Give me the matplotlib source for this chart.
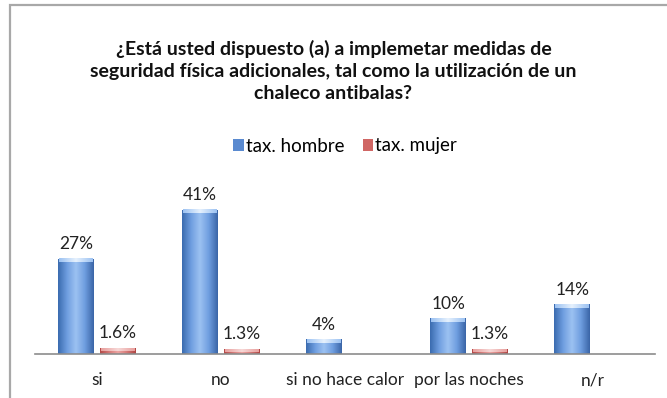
import numpy as np
import matplotlib
matplotlib.use("Agg")
import matplotlib.pyplot as plt
from matplotlib.patches import Rectangle
from matplotlib.colors import LinearSegmentedColormap

# respuestas por categoria (%)
categorias = ["si", "no", "si no hace calor", "por las noches", "n/r"]
hombre = [27, 41, 4, 10, 14]
mujer = [1.6, 1.3, None, 1.3, None]
etiq_hombre = ["27%", "41%", "4%", "10%", "14%"]
etiq_mujer = ["1.6%", "1.3%", "", "1.3%", ""]

titulo = ("¿Está usted dispuesto (a) a implemetar medidas de\n"
          "seguridad física adicionales, tal como la utilización de un\n"
          "chaleco antibalas?")

plt.rcParams['font.family'] = ['Lato', 'DejaVu Sans']

fig = plt.figure(figsize=(6.67, 3.98), dpi=100)
fig.patch.set_facecolor("white")

# marco gris del grafico
marco = Rectangle((10 / 667, -0.1), 1.2, 1 - 5 / 398 + 0.1, transform=fig.transFigure,
                  fill=False, edgecolor="#a8a8a8", linewidth=1.6)
fig.patches.append(marco)

ax = fig.add_axes([35 / 667, 1 - 354 / 398, 620 / 667, 164 / 398])
ymax = 164 / 3.51

x = np.arange(len(categorias))
ancho = 0.29
desp = 0.168

azul = LinearSegmentedColormap.from_list("azul", ["#3b6cb0", "#6f9ee0", "#9cc2f2", "#6f9ee0", "#3b66a8"])
rojo = LinearSegmentedColormap.from_list("rojo", ["#b54a48", "#d57a78", "#eda5a3", "#d57a78", "#b04644"])
tapa_azul = LinearSegmentedColormap.from_list("ta", ["#9cc2f2", "#e6f1fd", "#9cc2f2"])
tapa_roja = LinearSegmentedColormap.from_list("tr", ["#e8a09e", "#f7d8d7", "#e8a09e"])
grad = np.linspace(0, 1, 64).reshape(1, -1)


def barra_degradada(xc, h, cmap, cmap_tapa):
    x0, x1 = xc - ancho / 2, xc + ancho / 2
    ax.imshow(grad, cmap=cmap, extent=(x0, x1, 0, h), aspect="auto", zorder=2)
    # brillo en la parte superior
    tapa = min(0.9, h * 0.5)
    ax.imshow(grad, cmap=cmap_tapa, extent=(x0 + 0.01, x1 - 0.01, h - tapa, h),
              aspect="auto", zorder=3)


for i, v in enumerate(hombre):
    barra_degradada(x[i] - desp, v, azul, tapa_azul)
    ax.text(x[i] - desp, v + 2.0, etiq_hombre[i], ha="center", va="bottom",
            fontsize=12.5, color="#222222")
for i, v in enumerate(mujer):
    if v is None:
        continue
    barra_degradada(x[i] + desp, v, rojo, tapa_roja)
    ax.text(x[i] + desp, v + 2.0, etiq_mujer[i], ha="center", va="bottom",
            fontsize=12.5, color="#222222")

ax.set_xlim(-0.5, len(categorias) - 0.5)
ax.set_ylim(0, ymax)
ax.set_xticks(x)
ax.set_xticklabels(categorias, fontsize=12.5, color="#222222")
ax.tick_params(axis="x", length=0, pad=13)
ax.set_yticks([])
for s in ["top", "right", "left"]:
    ax.spines[s].set_visible(False)
ax.spines["bottom"].set_color("#8c8c8c")
ax.spines["bottom"].set_linewidth(1.2)
ax.patch.set_alpha(0)

fig.text(0.5, 1 - 71 / 398, titulo, ha="center", va="center", fontsize=14,
         fontweight="bold", color="#111111", linespacing=1.35)

# leyenda
h1 = Rectangle((0, 0), 1, 1, facecolor="#5a8ad0", edgecolor="none")
h2 = Rectangle((0, 0), 1, 1, facecolor="#d06664", edgecolor="none")
fig.legend([h1, h2], ["tax. hombre", "tax. mujer"], loc="center",
           bbox_to_anchor=(345 / 667, 1 - 146 / 398), ncol=2, frameon=False,
           fontsize=13.5, handlelength=0.55, handleheight=0.55, handletextpad=0.1,
           columnspacing=1.0)

fig.savefig("out.png", dpi=100, facecolor="white")
